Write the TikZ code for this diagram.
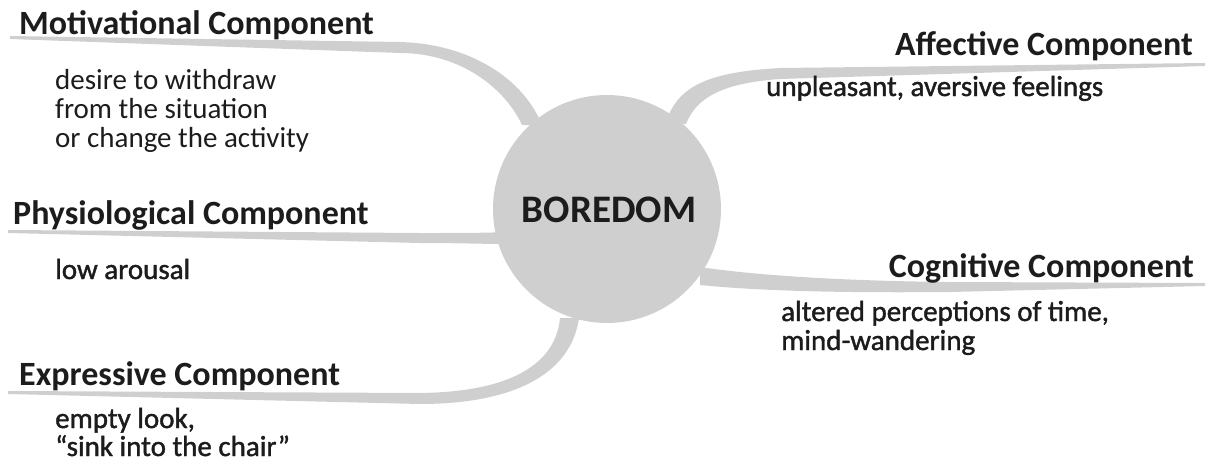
\documentclass[tikz,border=0pt]{standalone}
\usepackage{fontspec}
\setmainfont{Carlito}
\newfontfamily\semib[FakeBold=1.4]{Carlito}
\definecolor{branchgray}{RGB}{207,207,207}
\definecolor{ink}{RGB}{28,28,28}
\begin{document}
\begin{tikzpicture}[x=1pt,y=-1pt,
  head/.style={inner sep=0pt,text=ink,font=\fontsize{34}{40}\selectfont\bfseries},
  desc/.style={inner sep=0pt,text=ink,font=\fontsize{29}{29}\selectfont},
  descb/.style={inner sep=0pt,text=ink,font=\fontsize{29}{29}\selectfont\semib},
  branch/.style={fill=branchgray,draw=none}]
\useasboundingbox (0,0) rectangle (1207,472);
% branches
\path[branch] (10,36) -- (400,42) .. controls (472,44) and (524,80) .. (542,125)
  -- (522,125) .. controls (505,88) and (460,53) .. (400,53) -- (10,39) -- cycle;
\path[branch] (666,122) .. controls (678,85) and (710,72) .. (780,68) -- (1205,63)
  -- (1205,66) -- (780,79) .. controls (725,83) and (697,96) .. (686,124) -- cycle;
\path[branch] (8,230) -- (420,233) .. controls (460,233) and (480,233) .. (510,232)
  -- (510,244) .. controls (480,244) and (460,243) .. (420,243) -- (8,233) -- cycle;
\path[branch] (700,267) .. controls (760,276) and (850,281) .. (950,282) -- (1205,283)
  -- (1205,286) -- (950,292) .. controls (840,293) and (760,291) .. (700,285) -- cycle;
\path[branch] (560,318) .. controls (555,370) and (500,392) .. (420,393) -- (8,391)
  -- (8,394) -- (420,404) .. controls (512,404) and (571,375) .. (579,318) -- cycle;
% centre
\node[circle,fill=branchgray,minimum size=228pt,inner sep=0pt] (core) at (607,209) {};
\node[inner sep=0pt,text=ink,font=\fontsize{39}{44}\selectfont\bfseries] (bored) at (609,210) {BOREDOM};
% motivational
\node[head,anchor=base west] (mot) at (19,34) {Motivational Component};
\node[desc,anchor=base west] (mot1) at (55,89) {desire to withdraw};
\node[desc,anchor=base west] (mot2) at (55,118) {from the situation};
\node[desc,anchor=base west] (mot3) at (55,147) {or change the activity};
% affective
\node[head,anchor=base east] (aff) at (1193,55) {Affective Component};
\node[descb,anchor=base west] (aff1) at (766,96) {unpleasant, aversive feelings};
% physiological
\node[head,anchor=base west] (phy) at (13,224) {Physiological Component};
\node[descb,anchor=base west] (phy1) at (55,279) {low arousal};
% cognitive
\node[head,anchor=base east] (cog) at (1194,277) {Cognitive Component};
\node[descb,anchor=base west] (cog1) at (781,321) {altered perceptions of time,};
\node[descb,anchor=base west] (cog2) at (781,350) {mind-wandering};
% expressive
\node[head,anchor=base west] (exp) at (19,385) {Expressive Component};
\node[descb,anchor=base west] (exp1) at (55,428) {empty look,};
\node[descb,anchor=base west] (exp2) at (55,456) {“sink into the chair”};
\end{tikzpicture}
\end{document}
